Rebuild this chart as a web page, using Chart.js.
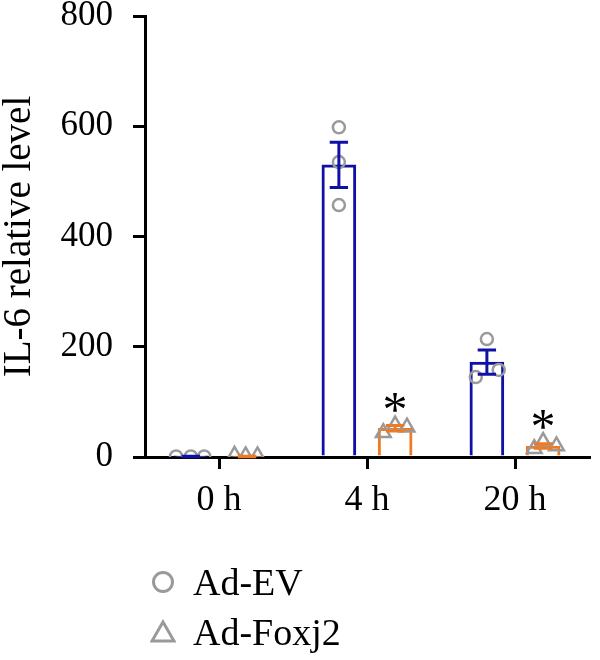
<!DOCTYPE html>
<html>
<head>
<meta charset="utf-8">
<script src="https://cdn.jsdelivr.net/npm/chart.js@4.4.0/dist/chart.umd.min.js"></script>
<style>
  html, body { margin: 0; padding: 0; background: #fff; }
  #wrap { position: relative; width: 600px; height: 660px; }
  #legend { position: absolute; left: 150px; top: 557px; font-family: "Liberation Serif", serif; font-size: 38px; color: #000; }
  .row { display: flex; align-items: center; height: 50px; }
  .row svg { margin-right: 17px; }
</style>
</head>
<body>
<div id="wrap">
  <canvas id="chart" width="600" height="660"></canvas>
  <div id="legend"></div>
</div>
<script>
// values
const categories = ['0 h', '4 h', '20 h'];
const seriesNames = ['Ad-EV', 'Ad-Foxj2'];
const evMean = [1, 530, 172];
const evSem = [0.5, 41, 22];
const foxMean = [1, 52, 20];
const foxSem = [0.5, 5, 4];
const evPoints = [[1, 1, 1], [598, 535, 457], [214, 145, 158]];
const foxPoints = [[3, 2, 2], [44, 58, 54], [15, 28, 20]];
const evJitter = [[-0.1, 0, 0.09], [0, 0, 0], [0, -0.075, 0.08]];
const foxJitter = [[-0.085, -0.01, 0.07], [-0.08, 0, 0.08], [-0.06, 0, 0.09]];
const starred = [false, true, true];
const yTicks = [0, 200, 400, 600, 800];

const BLUE = '#1010a6';
const ORANGE = '#f07a22';
const GREY = '#9a9a9a';
const FONT = '"Liberation Serif", serif';
const shift = 0.19; // bar centre offset inside a category, in category units

function el(id) { return document.getElementById(id); }

function bars(means, side) {
  return means.map((v, i) => ({ x: i + side * shift, y: v }));
}

function dots(points, jitter, side) {
  const out = [];
  points.forEach((vals, i) => {
    vals.forEach((v, k) => out.push({ x: i + side * shift + jitter[i][k], y: v }));
  });
  return out;
}

const errorBars = {
  id: 'errorBars',
  afterDatasetsDraw(chart) {
    const ctx = chart.ctx;
    const y = chart.scales.y;
    const sems = [evSem, foxSem];
    const means = [evMean, foxMean];
    [0, 1].forEach(d => {
      const meta = chart.getDatasetMeta(d);
      meta.data.forEach((bar, i) => {
        const top = y.getPixelForValue(means[d][i] + sems[d][i]);
        const bot = y.getPixelForValue(means[d][i] - sems[d][i]);
        const half = bar.width * 0.27;
        ctx.save();
        ctx.strokeStyle = chart.data.datasets[d].borderColor;
        ctx.lineWidth = 3;
        ctx.beginPath();
        ctx.moveTo(bar.x, top); ctx.lineTo(bar.x, bot);
        ctx.moveTo(bar.x - half, top); ctx.lineTo(bar.x + half, top);
        ctx.moveTo(bar.x - half, bot); ctx.lineTo(bar.x + half, bot);
        ctx.stroke();
        ctx.restore();
      });
    });
    // significance stars over the Ad-Foxj2 bars
    const meta = chart.getDatasetMeta(1);
    ctx.save();
    ctx.fillStyle = '#000';
    ctx.font = '50px ' + FONT;
    ctx.textAlign = 'center';
    ctx.textBaseline = 'alphabetic';
    meta.data.forEach((bar, i) => {
      if (!starred[i]) return;
      const peak = Math.max(...foxPoints[i]);
      ctx.fillText('*', bar.x, y.getPixelForValue(peak) + 1);
    });
    ctx.restore();
  }
};

function buildLegend() {
  const marks = [
    '<svg width="26" height="26"><circle cx="13" cy="13" r="9.5" fill="none" stroke="' + GREY + '" stroke-width="3"/></svg>',
    '<svg width="26" height="26"><polygon points="13,3 24,22 2,22" fill="none" stroke="' + GREY + '" stroke-width="3"/></svg>'
  ];
  el('legend').innerHTML = seriesNames.map((n, i) =>
    `<div class="row">${marks[i]}<span>${n}</span></div>`).join('');
}

new Chart(el('chart'), {
  type: 'bar',
  data: {
    labels: categories,
    datasets: [
      { label: seriesNames[0], data: bars(evMean, -1), xAxisID: 'xs', grouped: false, barThickness: 34,
        backgroundColor: '#fff', borderColor: BLUE, borderWidth: 3, order: 3 },
      { label: seriesNames[1], data: bars(foxMean, 1), xAxisID: 'xs', grouped: false, barThickness: 34,
        backgroundColor: '#fff', borderColor: ORANGE, borderWidth: 3, order: 3 },
      { type: 'scatter', label: seriesNames[0], data: dots(evPoints, evJitter, -1), xAxisID: 'xs', grouped: false,
        pointStyle: 'circle', pointRadius: 6, borderColor: GREY, borderWidth: 2.5, backgroundColor: 'rgba(0,0,0,0)', order: 1 },
      { type: 'scatter', label: seriesNames[1], data: dots(foxPoints, foxJitter, 1), xAxisID: 'xs', grouped: false,
        pointStyle: 'triangle', pointRadius: 8.5, borderColor: GREY, borderWidth: 2.5, backgroundColor: 'rgba(0,0,0,0)', order: 1 }
    ]
  },
  options: {
    responsive: false,
    animation: false,
    layout: { padding: { top: 0, right: 4, bottom: 0, left: 0 } },
    plugins: { legend: { display: false }, tooltip: { enabled: false } },
    scales: {
      x: {
        type: 'category',
        offset: true,
        grid: { offset: false, drawOnChartArea: false, tickLength: 12, color: '#000', lineWidth: 3 },
        border: { color: '#000', width: 3 },
        ticks: { color: '#000', font: { family: FONT, size: 36 }, padding: 10 },
        afterFit(s) { s.height = 203; }
      },
      xs: { type: 'linear', display: false, offset: false, min: -0.5, max: categories.length - 0.5 },
      y: {
        min: 0, max: 800,
        grid: { drawOnChartArea: false, tickLength: 12, color: '#000', lineWidth: 3 },
        border: { color: '#000', width: 3 },
        afterBuildTicks(s) { s.ticks = yTicks.map(v => ({ value: v })); },
        ticks: { color: '#000', font: { family: FONT, size: 35 }, padding: 20 },
        title: { display: true, text: 'IL-6 relative level', color: '#000',
          font: { family: FONT, size: 39, lineHeight: 1 }, padding: 0 },
        afterFit(s) { s.width = 145; s.paddingTop = 16; s.paddingBottom = 0; }
      }
    }
  },
  plugins: [errorBars]
});

buildLegend();
</script>
</body>
</html>
